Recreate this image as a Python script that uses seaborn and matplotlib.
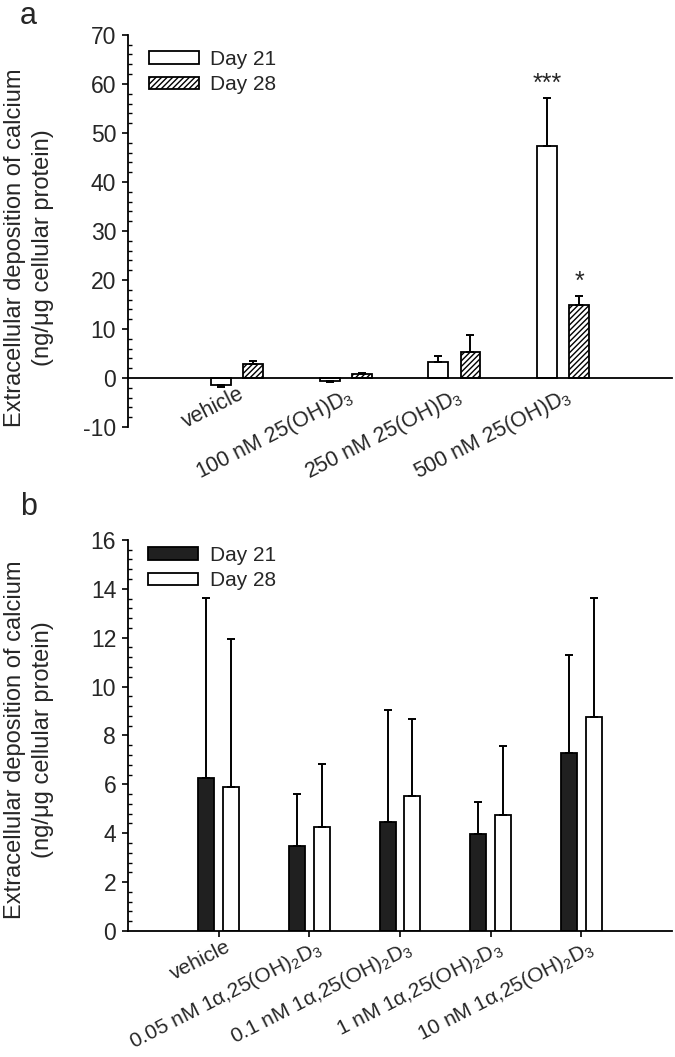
import numpy as np
import pandas as pd
import matplotlib
matplotlib.use("Agg")
import matplotlib.pyplot as plt
import matplotlib.transforms as mtrans
import seaborn as sns
from matplotlib.patches import Patch
from matplotlib.ticker import MultipleLocator

# ---------------- data ----------------
cats_a = ["vehicle", "100 nM 25(OH)D$_3$", "250 nM 25(OH)D$_3$", "500 nM 25(OH)D$_3$"]
day21_a = [-1.4, -0.6, 3.3, 47.3]
day21_a_err = [0.5, 0.3, 1.1, 9.9]
day28_a = [2.9, 0.8, 5.3, 14.9]
day28_a_err = [0.6, 0.3, 3.5, 1.9]
sig_a = {("500 nM 25(OH)D$_3$", "Day 21"): "***", ("500 nM 25(OH)D$_3$", "Day 28"): "*"}

cats_b = ["vehicle", "0.05 nM 1$\\alpha$,25(OH)$_2$D$_3$", "0.1 nM 1$\\alpha$,25(OH)$_2$D$_3$",
          "1 nM 1$\\alpha$,25(OH)$_2$D$_3$", "10 nM 1$\\alpha$,25(OH)$_2$D$_3$"]
day21_b = [6.25, 3.48, 4.47, 3.97, 7.27]
day21_b_err = [7.37, 2.14, 4.59, 1.30, 4.04]
day28_b = [5.88, 4.26, 5.54, 4.75, 8.74]
day28_b_err = [6.06, 2.59, 3.14, 2.80, 4.89]

series = ["Day 21", "Day 28"]
ylabel = "Extracellular deposition of calcium\n(ng/\u03bcg cellular protein)"

# ---------------- style ----------------
sns.set_theme(style="white")
plt.rcParams["font.family"] = ["Liberation Sans", "DejaVu Sans"]
plt.rcParams["mathtext.fontset"] = "custom"
plt.rcParams["mathtext.rm"] = "Liberation Sans"
plt.rcParams["mathtext.it"] = "Liberation Serif:italic"
plt.rcParams["mathtext.default"] = "regular"
plt.rcParams["axes.unicode_minus"] = False
plt.rcParams["hatch.linewidth"] = 1.0
plt.rcParams["hatch.color"] = "black"

fig = plt.figure(figsize=(6.75, 10.57), dpi=100)
ax_a = fig.add_axes([0.1896, 0.596, 0.806, 0.371])
ax_b = fig.add_axes([0.1896, 0.1192, 0.806, 0.370])


def make_df(cats, v21, v28):
    return pd.DataFrame({
        "cat": list(cats) * 2,
        "series": [series[0]] * len(cats) + [series[1]] * len(cats),
        "value": list(v21) + list(v28),
    })


def draw(ax, cats, v21, e21, v28, e28, styles, width, gap, xfs, ylab_y, dx_px, dy_px):
    df = make_df(cats, v21, v28)
    sns.barplot(data=df, x="cat", y="value", hue="series", order=cats, hue_order=series,
                errorbar=None, width=width, gap=gap, ax=ax, legend=False,
                palette=["white", "white"])
    n = len(cats)
    errs = [e21, e28]
    vals = [v21, v28]
    bar_info = {}
    bar_conts = list(ax.containers)
    for k, cont in enumerate(bar_conts):
        fc, hatch = styles[k]
        xs, ys, lo, hi = [], [], [], []
        for i, p in enumerate(cont.patches):
            p.set_facecolor(fc)
            p.set_edgecolor("black")
            p.set_linewidth(1.3)
            if hatch:
                p.set_hatch(hatch)
            xc = p.get_x() + p.get_width() / 2
            v = vals[k][i]
            e = errs[k][i]
            xs.append(xc)
            ys.append(v)
            lo.append(e if v < 0 else 0)
            hi.append(e if v >= 0 else 0)
            bar_info[(cats[i], series[k])] = (xc, v, e)
        ax.errorbar(xs, ys, yerr=[lo, hi], fmt="none", ecolor="black",
                    elinewidth=1.4, capsize=3.2, capthick=1.4, zorder=1)
    ax.set_xlim(-1, n)
    ax.set_xlabel("")
    ax.set_ylabel(ylabel, fontsize=17, linespacing=1.35)
    ax.yaxis.set_label_coords(-0.136, ylab_y)
    for s in ["top", "right"]:
        ax.spines[s].set_visible(False)
    for s in ["left", "bottom"]:
        ax.spines[s].set_color("black")
        ax.spines[s].set_linewidth(1.3)
    ax.spines["bottom"].set_position(("data", 0))
    ax.tick_params(axis="y", which="major", direction="out", length=4.5, width=1.2,
                   labelsize=16.5, pad=4, left=True, color="black")
    ax.tick_params(axis="y", which="minor", direction="in", length=3, width=1.0,
                   left=True, color="black")
    offset = mtrans.ScaledTranslation(dx_px / 100.0, dy_px / 100.0, fig.dpi_scale_trans)
    for lab in ax.get_xticklabels():
        lab.set_rotation(27)
        lab.set_ha("right")
        lab.set_va("top")
        lab.set_rotation_mode("anchor")
        lab.set_fontsize(xfs)
        lab.set_transform(lab.get_transform() + offset)
    return bar_info


legend_kw = dict(loc="upper left", frameon=False, fontsize=15, handlelength=2.4,
                 handleheight=0.53, handletextpad=0.55, labelspacing=0.3,
                 borderpad=0, borderaxespad=0)

# panel a
ax_a.tick_params(axis="x", length=0, pad=4)
info_a = draw(ax_a, cats_a, day21_a, day21_a_err, day28_a, day28_a_err,
              [("white", None), ("white", "//////")], 0.59, 0.38, 15.5, 0.457, 1, 0)
ax_a.set_ylim(-10, 70)
ax_a.yaxis.set_major_locator(MultipleLocator(10))
ax_a.yaxis.set_minor_locator(MultipleLocator(2))
for key, txt in sig_a.items():
    xc, v, e = info_a[key]
    ax_a.text(xc, v + e + 0.4, txt, ha="center", va="bottom", fontsize=18)
leg_a = [Patch(facecolor="white", edgecolor="black", linewidth=1.3, label=series[0]),
         Patch(facecolor="white", edgecolor="black", linewidth=1.3, hatch="//////", label=series[1])]
ax_a.legend(handles=leg_a, bbox_to_anchor=(0.0386, 0.962), **legend_kw)

# panel b
ax_b.tick_params(axis="x", direction="out", length=4, width=1.2, bottom=True, pad=0.5, color="black")
draw(ax_b, cats_b, day21_b, day21_b_err, day28_b, day28_b_err,
     [("#202020", None), ("white", None)], 0.55, 0.36, 15, 0.49, 6, 0)
ax_b.set_ylim(0, 16)
ax_b.yaxis.set_major_locator(MultipleLocator(2))
ax_b.yaxis.set_minor_locator(MultipleLocator(0.4))
leg_b = [Patch(facecolor="#202020", edgecolor="black", linewidth=1.3, label=series[0]),
         Patch(facecolor="white", edgecolor="black", linewidth=1.3, label=series[1])]
ax_b.legend(handles=leg_b, bbox_to_anchor=(0.037, 0.985), **legend_kw)

fig.text(0.0296, 0.999, "a", fontsize=22, va="top", ha="left")
fig.text(0.0296, 0.5128, "b", fontsize=22, va="baseline", ha="left")

fig.savefig("out.png", dpi=100)
